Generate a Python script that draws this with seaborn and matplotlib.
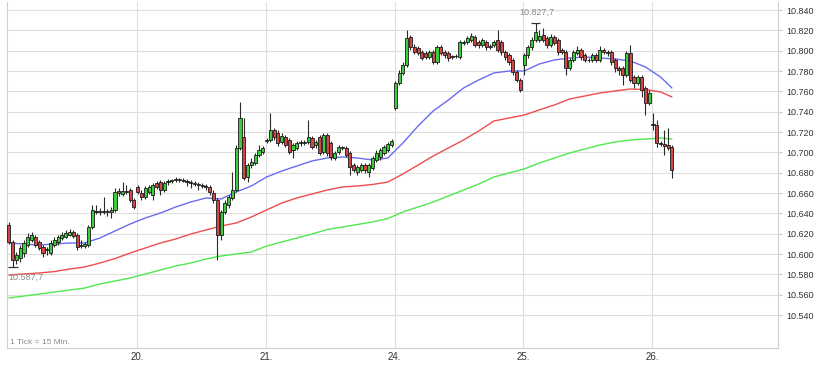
import numpy as np
import pandas as pd
import matplotlib
matplotlib.use("Agg")
import matplotlib.pyplot as plt
import seaborn as sns

# ---------------- data (15-minute candles, 34 per trading day) ----------------
days = ["19.", "20.", "21.", "24.", "25.", "26."]
candles_per_day = 34

o19 = [10628.6, 10611.9, 10594.2, 10596.1, 10601.0, 10608.9, 10613.8, 10616.8, 10611.9, 10606.9, 10604.0, 10601.0,
       10608.9, 10611.9, 10615.8, 10616.8, 10618.8, 10621.7, 10618.8, 10608.9, 10607.9, 10608.9, 10626.6, 10642.4,
       10641.4, 10642.4, 10641.4, 10641.4, 10643.4, 10662.1, 10659.1, 10662.1, 10663.0, 10653.2]
h19 = [10631.6, 10613.8, 10602.0, 10608.9, 10613.8, 10620.7, 10621.7, 10618.8, 10613.8, 10608.9, 10606.9, 10613.8,
       10616.8, 10618.8, 10621.7, 10623.7, 10624.7, 10623.7, 10620.7, 10613.8, 10611.9, 10628.6, 10648.3, 10648.3,
       10645.3, 10656.2, 10644.3, 10646.3, 10665.0, 10665.0, 10670.9, 10668.0, 10665.0, 10655.2]
l19 = [10609.9, 10587.7, 10590.2, 10592.2, 10597.1, 10606.9, 10611.9, 10606.9, 10604.0, 10597.1, 10599.1, 10599.1,
       10606.9, 10608.9, 10613.8, 10615.8, 10617.8, 10615.8, 10604.0, 10606.0, 10606.0, 10606.9, 10624.7, 10639.4,
       10638.4, 10639.4, 10637.5, 10635.5, 10641.4, 10657.1, 10657.1, 10659.1, 10651.2, 10644.3]
c19 = [10611.9, 10594.2, 10599.1, 10606.0, 10610.9, 10616.8, 10618.8, 10608.9, 10606.0, 10601.0, 10605.0, 10610.9,
       10613.8, 10616.8, 10618.8, 10620.7, 10621.7, 10617.8, 10606.9, 10607.9, 10609.9, 10626.6, 10643.4, 10641.4,
       10642.4, 10641.4, 10642.4, 10643.4, 10661.1, 10660.1, 10662.1, 10661.1, 10653.2, 10646.3]

o20 = [10666.0, 10660.1, 10656.2, 10661.1, 10658.1, 10669.9, 10670.9, 10663.0, 10670.9, 10671.9, 10672.9, 10672.9,
       10672.9, 10671.9, 10670.9, 10669.9, 10668.9, 10668.0, 10667.0, 10666.0, 10660.1, 10653.2, 10618.8, 10641.4,
       10648.3, 10655.2, 10663.0, 10704.4, 10715.2, 10675.8, 10687.6, 10689.6, 10697.5, 10700.4]
h20 = [10668.0, 10663.0, 10667.0, 10668.0, 10669.9, 10671.9, 10672.9, 10671.9, 10673.9, 10673.9, 10675.8, 10674.8,
       10674.8, 10673.9, 10672.9, 10671.9, 10670.9, 10669.9, 10668.9, 10668.0, 10663.0, 10655.2, 10643.4, 10653.2,
       10658.1, 10680.8, 10707.3, 10749.6, 10733.9, 10689.6, 10694.5, 10699.4, 10707.3, 10706.3]
l20 = [10659.1, 10653.2, 10654.2, 10659.1, 10653.2, 10664.0, 10658.1, 10661.1, 10668.0, 10669.9, 10670.9, 10670.9,
       10670.9, 10667.0, 10665.0, 10667.0, 10663.0, 10665.0, 10663.0, 10658.1, 10650.2, 10594.2, 10613.8, 10639.4,
       10645.3, 10653.2, 10661.1, 10702.4, 10672.9, 10670.9, 10684.7, 10687.6, 10695.5, 10698.5]
c20 = [10661.1, 10656.2, 10665.0, 10666.0, 10668.0, 10666.0, 10663.0, 10669.9, 10671.4, 10672.4, 10673.4, 10673.9,
       10671.9, 10671.4, 10669.9, 10668.9, 10668.0, 10667.0, 10666.0, 10661.1, 10653.2, 10618.8, 10641.4, 10650.2,
       10656.2, 10663.0, 10704.4, 10733.9, 10674.8, 10687.6, 10690.6, 10697.5, 10702.4, 10704.4]

o21 = [10711.3, 10712.2, 10722.1, 10719.1, 10710.3, 10715.2, 10712.2, 10702.4, 10704.4, 10709.3, 10709.3, 10710.3,
       10714.2, 10707.3, 10715.2, 10700.4, 10717.2, 10709.3, 10694.5, 10700.4, 10704.4, 10704.4, 10699.4, 10687.6,
       10680.8, 10682.7, 10687.6, 10680.8, 10684.7, 10692.6, 10695.5, 10699.4, 10702.4, 10707.3]
h21 = [10714.2, 10738.8, 10724.0, 10722.1, 10719.1, 10717.2, 10714.2, 10709.3, 10711.3, 10712.2, 10712.2, 10731.9,
       10716.2, 10712.2, 10717.2, 10719.1, 10719.1, 10711.3, 10701.4, 10707.3, 10706.3, 10706.3, 10701.4, 10689.6,
       10687.6, 10689.6, 10689.6, 10689.6, 10696.5, 10702.4, 10704.4, 10707.3, 10710.3, 10713.2]
l21 = [10709.3, 10710.3, 10712.2, 10706.3, 10708.3, 10705.4, 10698.5, 10694.5, 10702.4, 10706.3, 10707.3, 10708.3,
       10703.4, 10704.4, 10697.5, 10698.5, 10696.5, 10692.6, 10692.6, 10698.5, 10702.4, 10695.5, 10677.8, 10680.8,
       10677.8, 10680.8, 10679.8, 10675.8, 10682.7, 10690.6, 10692.6, 10697.5, 10700.4, 10705.4]
c21 = [10712.2, 10722.1, 10715.2, 10709.3, 10716.2, 10707.3, 10700.4, 10707.3, 10709.3, 10709.8, 10710.3, 10715.2,
       10705.4, 10710.3, 10699.4, 10717.2, 10699.4, 10695.5, 10699.4, 10705.4, 10704.9, 10697.5, 10685.7, 10682.7,
       10685.7, 10687.6, 10682.7, 10687.6, 10694.5, 10699.4, 10702.4, 10705.4, 10708.3, 10711.3]

o24 = [10743.7, 10768.3, 10778.2, 10786.0, 10813.6, 10803.8, 10802.8, 10798.8, 10797.8, 10793.9, 10798.8, 10789.0,
       10803.8, 10798.8, 10797.8, 10793.9, 10794.9, 10793.9, 10807.7, 10808.7, 10810.6, 10813.6, 10808.7, 10805.7,
       10808.7, 10803.8, 10805.7, 10810.6, 10808.7, 10798.8, 10795.9, 10791.0, 10779.2, 10771.3]
h24 = [10770.3, 10781.1, 10789.0, 10820.5, 10815.6, 10806.7, 10804.7, 10800.8, 10799.8, 10800.8, 10800.8, 10805.7,
       10805.7, 10800.8, 10799.8, 10795.9, 10796.9, 10810.6, 10810.6, 10814.6, 10817.5, 10815.6, 10810.6, 10812.6,
       10810.6, 10806.7, 10810.6, 10820.5, 10810.6, 10800.8, 10797.8, 10792.9, 10781.1, 10773.2]
l24 = [10741.8, 10766.4, 10776.2, 10784.1, 10800.8, 10796.9, 10795.9, 10791.0, 10791.9, 10791.9, 10787.0, 10787.0,
       10795.9, 10792.9, 10790.0, 10791.9, 10792.9, 10791.9, 10805.7, 10806.7, 10808.7, 10803.8, 10802.8, 10803.8,
       10800.8, 10801.8, 10803.8, 10798.8, 10795.9, 10791.0, 10786.0, 10776.2, 10769.3, 10759.5]
c24 = [10768.3, 10778.2, 10786.0, 10812.6, 10803.8, 10798.8, 10797.8, 10792.9, 10793.9, 10798.8, 10789.0, 10803.8,
       10797.8, 10795.9, 10792.9, 10794.4, 10794.4, 10808.7, 10808.7, 10812.6, 10814.6, 10805.7, 10805.7, 10810.6,
       10803.8, 10804.7, 10808.7, 10800.8, 10798.8, 10793.9, 10789.0, 10779.2, 10771.3, 10761.4]

o25 = [10786.0, 10795.9, 10803.8, 10810.6, 10810.6, 10815.6, 10812.6, 10805.7, 10813.6, 10810.6, 10800.8, 10798.8,
       10783.1, 10791.0, 10797.8, 10800.8, 10795.9, 10791.0, 10791.0, 10795.9, 10791.0, 10800.8, 10798.8, 10798.8,
       10791.0, 10783.1, 10783.1, 10776.2, 10797.8, 10774.2, 10768.3, 10774.2, 10763.4, 10748.6]
h25 = [10797.8, 10805.7, 10813.6, 10827.7, 10820.5, 10822.4, 10814.6, 10816.5, 10815.6, 10812.6, 10802.8, 10800.8,
       10792.9, 10800.8, 10804.7, 10802.8, 10797.8, 10792.9, 10797.8, 10797.8, 10804.7, 10802.8, 10800.8, 10800.8,
       10792.9, 10785.1, 10785.1, 10799.8, 10805.7, 10776.2, 10776.2, 10776.2, 10765.4, 10761.4]
l25 = [10776.2, 10792.9, 10800.8, 10808.7, 10808.7, 10808.7, 10802.8, 10803.8, 10805.7, 10795.9, 10796.9, 10776.2,
       10781.1, 10789.0, 10795.9, 10791.0, 10789.0, 10789.0, 10789.0, 10789.0, 10789.0, 10796.9, 10794.9, 10786.0,
       10779.2, 10776.2, 10766.4, 10774.2, 10769.3, 10763.4, 10766.4, 10754.6, 10736.8, 10746.7]
c25 = [10795.9, 10803.8, 10810.6, 10818.5, 10814.6, 10810.6, 10805.7, 10813.6, 10807.7, 10798.8, 10798.8, 10783.1,
       10791.0, 10798.8, 10800.8, 10793.9, 10791.0, 10790.5, 10795.9, 10791.0, 10800.8, 10798.8, 10797.8, 10789.0,
       10783.1, 10781.1, 10776.2, 10797.8, 10771.3, 10768.3, 10774.2, 10761.4, 10748.6, 10758.5]

o26 = [10728.0, 10727.0, 10709.3, 10708.3, 10707.3, 10705.4]
h26 = [10738.8, 10731.9, 10711.3, 10722.1, 10724.0, 10707.3]
l26 = [10722.1, 10705.4, 10706.3, 10697.5, 10702.4, 10674.8]
c26 = [10727.0, 10709.3, 10708.3, 10706.3, 10704.4, 10682.7]

# moving averages, read every 4th candle (plus the last one)
ma_index = list(range(0, 173, 4)) + [175]
ma_blue = [10610.9, 10609.9, 10608.9, 10609.9, 10610.9, 10610.9, 10615.8, 10622.7, 10629.6, 10635.5, 10640.4, 10646.3,
           10651.2, 10655.2, 10654.2, 10661.1, 10667.0, 10675.8, 10681.7, 10686.7, 10691.6, 10694.5, 10695.5, 10694.5,
           10692.6, 10694.5, 10709.3, 10726.0, 10740.8, 10751.6, 10763.4, 10771.3, 10778.2, 10780.1, 10780.1, 10787.0,
           10791.0, 10792.9, 10793.9, 10792.9, 10791.9, 10790.0, 10784.1, 10774.2, 10763.4]
ma_red = [10579.4, 10580.4, 10581.4, 10582.8, 10585.3, 10587.3, 10591.2, 10595.6, 10601.0, 10606.0, 10610.9, 10614.8,
          10619.7, 10623.7, 10627.6, 10630.6, 10636.5, 10643.4, 10650.2, 10655.2, 10659.1, 10663.0, 10666.0, 10667.0,
          10668.5, 10670.9, 10678.8, 10687.6, 10696.5, 10704.4, 10712.2, 10721.1, 10730.9, 10733.9, 10736.8, 10741.8,
          10746.7, 10752.6, 10755.5, 10758.5, 10760.5, 10762.4, 10761.9, 10759.5, 10754.6]
ma_green = [10556.8, 10558.7, 10560.7, 10562.7, 10564.6, 10566.6, 10570.5, 10573.5, 10576.4, 10580.4, 10584.3, 10588.3,
            10591.2, 10595.1, 10598.1, 10600.1, 10602.0, 10607.9, 10611.9, 10615.8, 10619.7, 10624.2, 10626.6, 10629.1,
            10631.6, 10635.0, 10641.4, 10646.3, 10651.2, 10657.1, 10663.0, 10668.9, 10675.8, 10679.8, 10683.7, 10689.6,
            10694.5, 10699.4, 10703.4, 10707.3, 10710.3, 10712.2, 10713.2, 10714.2, 10713.2]

y_ticks = list(range(10540, 10841, 20))

# ---------------- assemble ----------------
opens = np.array(o19 + o20 + o21 + o24 + o25 + o26)
highs = np.array(h19 + h20 + h21 + h24 + h25 + h26)
lows = np.array(l19 + l20 + l21 + l24 + l25 + l26)
closes = np.array(c19 + c20 + c21 + c24 + c25 + c26)
idx = np.arange(len(opens))

ma_df = pd.DataFrame({
    "idx": ma_index * 3,
    "value": ma_green + ma_red + ma_blue,
    "ma": ["green"] * len(ma_green) + ["red"] * len(ma_red) + ["blue"] * len(ma_blue),
})


def de_fmt(v, dec=0):
    s = f"{v:,.{dec}f}"
    return s.replace(",", "X").replace(".", ",").replace("X", ".")


sns.set_style("white")
plt.rcParams['font.family'] = ['Liberation Sans', 'DejaVu Sans']

fig = plt.figure(figsize=(8.15, 3.65), dpi=100)
ax = fig.add_axes([7 / 815, 17 / 365, 771 / 815, 346 / 365])

# grid
for v in y_ticks:
    ax.axhline(v, color="#dedede", lw=0.8, zorder=0)
day_pos = [candles_per_day * k - 0.2 for k in range(1, len(days))]
for p in day_pos:
    ax.axvline(p, color="#dedede", lw=0.8, zorder=0)

# moving averages
sns.lineplot(data=ma_df, x="idx", y="value", hue="ma",
             palette={"blue": "#6b6bf0", "red": "#ee4d4d", "green": "#4fe84f"},
             linewidth=1.0, legend=False, ax=ax, zorder=2)

# candles
up = closes >= opens
colors = np.where(up, "#3ccc3c", "#d24646")
ax.vlines(idx, lows, highs, colors="#2a2a2a", linewidth=0.8, zorder=3)
body_bottom = np.minimum(opens, closes)
body_h = np.maximum(np.abs(closes - opens), 0.9)
ax.bar(idx, body_h, bottom=body_bottom, width=0.82, color=colors,
       edgecolor="#1a1a1a", linewidth=0.6, zorder=4)

# high / low markers
hi = int(np.argmax(highs))
lo = int(np.argmin(lows))
ax.hlines(highs[hi], hi - 1.1, hi + 1.1, color="#333333", lw=0.9, zorder=5)
ax.hlines(lows[lo], lo - 1.3, lo + 1.3, color="#333333", lw=0.9, zorder=5)
ax.annotate(de_fmt(highs[hi], 1), (hi, highs[hi]), xytext=(1, 4), textcoords="offset points",
            ha="center", va="bottom", fontsize=6.5, color="#8a8a8a")
ax.annotate(de_fmt(lows[lo], 1), (lo - 1.2, lows[lo]), xytext=(0, -7.5), textcoords="offset points",
            ha="left", va="center", fontsize=6.5, color="#8a8a8a")

ax.text(3 / 771, 6 / 346, "1 Tick = 15 Min.", transform=ax.transAxes, fontsize=6,
        color="#8a8a8a", ha="left", va="center")

# axes
ax.set_xlim(-0.5, 203.0)
ax.set_ylim(10507.6, 10848.0)
ax.set_xticks(day_pos)
ax.set_xticklabels(days[1:])
ax.set_yticks(y_ticks)
ax.set_yticklabels([de_fmt(v) for v in y_ticks])
ax.yaxis.tick_right()
ax.tick_params(axis="y", length=3, color="#cfcfcf", pad=3, labelsize=6.5, labelcolor="#333333")
ax.tick_params(axis="x", length=0, pad=3, labelsize=7, labelcolor="#333333")
ax.set_xlabel("")
ax.set_ylabel("")
for side in ["left", "bottom", "right"]:
    ax.spines[side].set_color("#cfcfcf")
    ax.spines[side].set_linewidth(0.8)
ax.spines["top"].set_visible(False)

fig.savefig("out.png", dpi=100)
